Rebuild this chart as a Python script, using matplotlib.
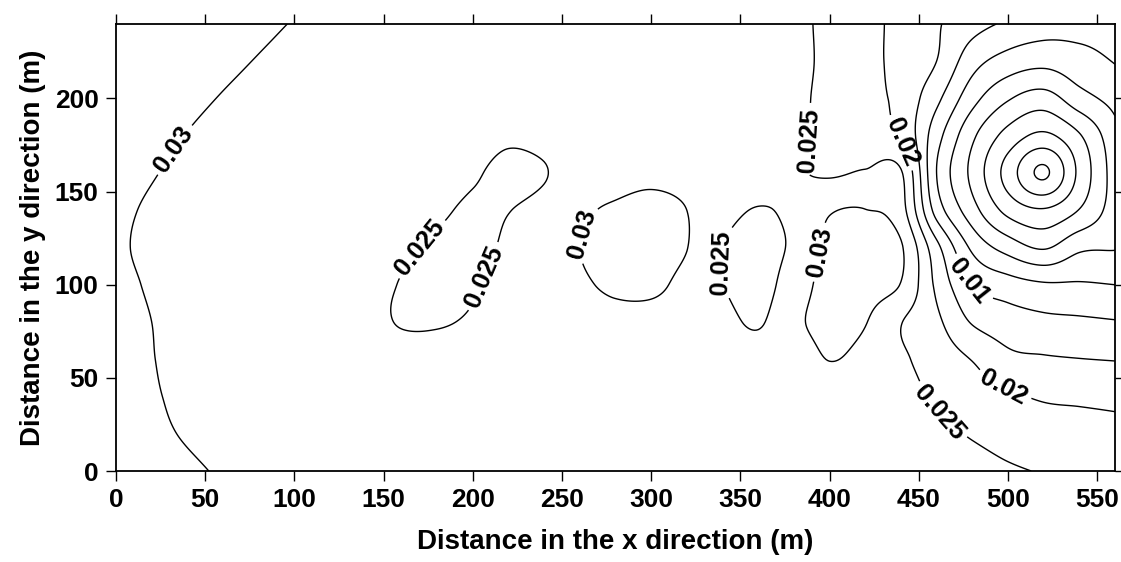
import numpy as np
import matplotlib
matplotlib.use("Agg")
import matplotlib.pyplot as plt

plt.rcParams["font.family"] = ["Liberation Sans", "DejaVu Sans"]
plt.rcParams["font.weight"] = "bold"
plt.rcParams["axes.labelweight"] = "bold"

# Sampling grid of the concentration field (m)
x_nodes = list(range(0, 561, 20))
y_nodes = list(range(0, 241, 20))

# Concentration at the grid nodes, in units of 1e-4; one row per y node (bottom to top)
conc_e4 = [
    [326, 316, 306, 296, 286, 278, 277, 277, 277, 277, 277, 277, 277, 277, 277, 277, 277, 277, 277, 277, 277, 277, 277, 272, 268, 256, 247, 238, 228],
    [317, 307, 297, 287, 277, 277, 277, 277, 277, 277, 277, 277, 277, 277, 277, 277, 277, 277, 277, 277, 277, 277, 275, 262, 246, 232, 223, 217, 212],
    [313, 303, 293, 283, 277, 277, 277, 277, 277, 277, 277, 277, 277, 277, 277, 277, 277, 277, 277, 277, 277, 277, 268, 243, 222, 207, 195, 192, 189],
    [311, 301, 291, 281, 277, 277, 277, 275, 270, 270, 274, 277, 277, 277, 277, 277, 277, 277, 272, 277, 301, 286, 258, 228, 198, 162, 155, 151, 148],
    [310, 300, 290, 280, 277, 277, 276, 265, 247, 246, 256, 275, 277, 278, 285, 283, 278, 265, 245, 290, 312, 302, 252, 210, 146, 123, 112, 108, 103],
    [307, 297, 287, 277, 277, 277, 276, 265, 248, 236, 245, 270, 277, 293, 308, 310, 285, 251, 232, 275, 316, 315, 298, 190, 100, 72, 56, 55, 50],
    [304, 294, 284, 277, 277, 277, 277, 272, 258, 243, 236, 258, 272, 300, 315, 318, 301, 250, 236, 258, 310, 318, 305, 165, 40, -20, -55, -10, -3],
    [306, 296, 286, 277, 277, 277, 277, 277, 272, 258, 243, 249, 265, 293, 305, 312, 300, 265, 248, 260, 296, 301, 270, 80, -30, -115, -145, -98, -25],
    [312, 302, 292, 282, 277, 277, 277, 277, 277, 272, 256, 238, 247, 280, 285, 290, 285, 277, 270, 255, 245, 254, 255, 50, -63, -170, -258, -138, -25],
    [319, 309, 299, 289, 279, 277, 277, 277, 277, 277, 272, 258, 265, 277, 277, 277, 277, 277, 275, 258, 240, 222, 195, 70, -40, -118, -160, -105, -15],
    [328, 318, 308, 298, 288, 278, 277, 277, 277, 277, 277, 277, 277, 277, 277, 277, 277, 277, 275, 260, 238, 217, 185, 112, 18, -45, -72, -20, 16],
    [338, 328, 318, 308, 298, 288, 278, 277, 277, 277, 277, 277, 277, 277, 277, 277, 277, 277, 275, 263, 239, 214, 186, 150, 70, 30, 15, 33, 52],
    [348, 338, 328, 318, 308, 298, 288, 278, 277, 277, 277, 277, 277, 277, 277, 277, 277, 277, 272, 262, 238, 214, 187, 155, 120, 92, 75, 66, 62],
]

levels = [-0.025, -0.02, -0.015, -0.01, -0.005, 0.0, 0.005, 0.01, 0.015, 0.02, 0.025, 0.03]

# Where each labelled level carries its value (x, y in m)
label_pos = {
    0.03: [(32, 173), (265, 126), (397, 117)],
    0.025: [(169, 121), (205, 105), (343, 112), (387, 178), (462, 32)],
    0.02: [(440, 176), (498, 46)],
    0.01: [(481, 104)],
}


def cubic_weights(nodes, q):
    """Cubic Hermite (Catmull-Rom style) weights mapping node values to points q."""
    nodes = np.asarray(nodes, float)
    q = np.asarray(q, float)
    n = len(nodes)
    D = np.zeros((n, n))
    for j in range(n):
        a, b = max(j - 1, 0), min(j + 1, n - 1)
        d = nodes[b] - nodes[a]
        D[j, b] += 1.0 / d
        D[j, a] -= 1.0 / d
    i = np.clip(np.searchsorted(nodes, q, side="right") - 1, 0, n - 2)
    h = nodes[i + 1] - nodes[i]
    s = (q - nodes[i]) / h
    h00 = 2 * s**3 - 3 * s**2 + 1
    h10 = s**3 - 2 * s**2 + s
    h01 = -2 * s**3 + 3 * s**2
    h11 = s**3 - s**2
    W = np.zeros((len(q), n))
    r = np.arange(len(q))
    W[r, i] += h00
    W[r, i + 1] += h01
    W += (h10 * h)[:, None] * D[i] + (h11 * h)[:, None] * D[i + 1]
    return W


Z_nodes = np.array(conc_e4, float) / 1e4
xf = np.linspace(0, 560, 561)
yf = np.linspace(0, 240, 241)
Z = cubic_weights(y_nodes, yf) @ Z_nodes @ cubic_weights(x_nodes, xf).T
X, Y = np.meshgrid(xf, yf)

fig = plt.figure(figsize=(11.21, 5.62), dpi=100)
ax = fig.add_axes([0.1035, 0.1619, 0.8911, 0.7954])

ax.set_xlim(0, 560)
ax.set_ylim(0, 240)

# One contour set per level so each label sits on its own line
for lev in levels:
    cs = ax.contour(X, Y, Z, levels=[lev], colors="black", linewidths=1.0,
                    linestyles="solid")
    if lev in label_pos:
        ax.clabel(cs, manual=label_pos[lev], inline=True, inline_spacing=5,
                  fontsize=18.5, fmt=lambda v: f"{v:g}")

ax.set_xticks(range(0, 551, 50))
ax.set_yticks(range(0, 201, 50))
ax.tick_params(direction="out", top=True, right=True, length=7.5, width=1,
               labelsize=19, pad=5)
for sp in ax.spines.values():
    sp.set_linewidth(1.3)

ax.set_xlabel("Distance in the x direction (m)", fontsize=20, fontweight="bold",
              labelpad=12)
ax.set_ylabel("Distance in the y direction (m)", fontsize=20, fontweight="bold",
              labelpad=6)

fig.savefig("out.png", dpi=100)
